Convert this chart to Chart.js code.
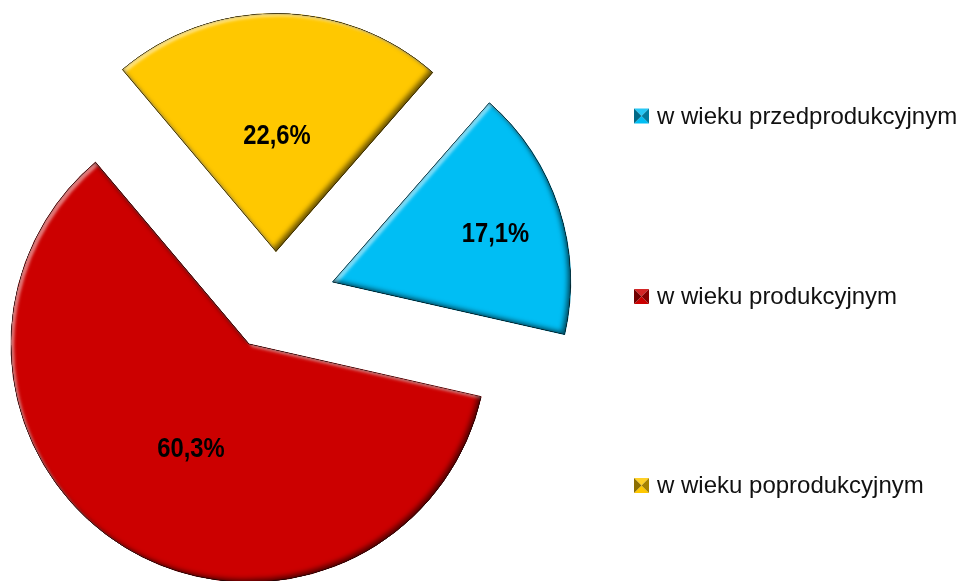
<!DOCTYPE html>
<html>
<head>
<meta charset="utf-8">
<script src="https://cdn.jsdelivr.net/npm/chart.js@4/dist/chart.umd.min.js"></script>
<style>
  html, body { margin: 0; padding: 0; background: #ffffff; }
  #wrap { width: 958px; height: 581px; position: relative; }
</style>
</head>
<body>
<div id="wrap"><canvas id="c" width="958" height="581"></canvas></div>
<script>
// ---- data ----
const categories = ['w wieku przedprodukcyjnym', 'w wieku produkcyjnym', 'w wieku poprodukcyjnym'];
const shares = [17.1, 60.3, 22.6];

// ---- style ----
const colors = ['#00BEF4', '#CC0000', '#FFC800'];
const explodePx = [60, 51, 49];            // how far each slice is pulled out
const labelRatio = [0.713, 0.505, 0.485];   // label distance as share of radius
const labelTurnDeg = [1.8, -2.4, 0];        // label angle tweak vs slice middle
const fontFam = "'Liberation Sans', Arial, sans-serif";
const legendStyle = { x: 634, ys: [116, 296.5, 485.5], box: 15, gap: 8, size: 24 };

function shade(hex, f) {
  const n = parseInt(hex.slice(1), 16);
  let r = (n >> 16) & 255, g = (n >> 8) & 255, b = n & 255;
  const m = v => f >= 0 ? Math.round(v + (255 - v) * f) : Math.round(v * (1 + f));
  return `rgb(${m(r)},${m(g)},${m(b)})`;
}

const explodePlugin = {
  id: 'explode',
  afterDatasetUpdate(chart, args) {
    args.meta.data.forEach((el, i) => {
      const mid = (el.startAngle + el.endAngle) / 2;
      el.x += Math.cos(mid) * explodePx[i];
      el.y += Math.sin(mid) * explodePx[i];
    });
  }
};

function arcPath(el) {
  const p = new Path2D();
  p.moveTo(el.x, el.y);
  p.arc(el.x, el.y, el.outerRadius, el.startAngle, el.endAngle);
  p.closePath();
  return p;
}

const bevelPlugin = {
  id: 'bevel',
  afterDatasetDraw(chart, args) {
    const ctx = chart.ctx;
    args.meta.data.forEach((el) => {
      const p = arcPath(el);
      const ring = new Path2D();
      ring.rect(-2000, -2000, 5000, 5000);
      ring.addPath(p);
      const passes = [
        { c: 'rgba(255,255,255,0.5)', dx: 3, dy: 3, blur: 3 },
        { c: 'rgba(0,0,0,0.55)', dx: -3, dy: -3, blur: 5 },
        { c: 'rgba(0,0,0,0.25)', dx: 0, dy: 0, blur: 3 }
      ];
      passes.forEach(s => {
        ctx.save();
        ctx.clip(p);
        ctx.shadowColor = s.c;
        ctx.shadowBlur = s.blur;
        ctx.shadowOffsetX = s.dx;
        ctx.shadowOffsetY = s.dy;
        ctx.fillStyle = '#000';
        ctx.fill(ring, 'evenodd');
        ctx.restore();
      });
    });
  }
};

const labelPlugin = {
  id: 'sliceLabels',
  afterDatasetsDraw(chart) {
    const ctx = chart.ctx;
    const meta = chart.getDatasetMeta(0);
    const vals = chart.data.datasets[0].data;
    meta.data.forEach((el, i) => {
      const mid = (el.startAngle + el.endAngle) / 2 + labelTurnDeg[i] * Math.PI / 180;
      const r = el.outerRadius * labelRatio[i];
      const txt = vals[i].toFixed(1).replace('.', ',') + '%';
      ctx.save();
      ctx.translate(el.x + Math.cos(mid) * r, el.y + Math.sin(mid) * r);
      ctx.scale(0.85, 1);
      ctx.font = `bold 28px ${fontFam}`;
      ctx.fillStyle = '#000';
      ctx.textAlign = 'center';
      ctx.textBaseline = 'middle';
      ctx.fillText(txt, 0, 0);
      ctx.restore();
    });
  }
};

const legendPlugin = {
  id: 'sideLegend',
  afterDraw(chart) {
    const ctx = chart.ctx;
    const ds = chart.data.datasets[0];
    const L = legendStyle;
    ctx.save();
    chart.data.labels.forEach((lab, i) => {
      const col = ds.backgroundColor[i];
      const x = L.x, y = L.ys[i] - L.box / 2, s = L.box, cx = x + s / 2, cy = y + s / 2;
      const tri = (pts, c) => {
        ctx.beginPath();
        ctx.moveTo(pts[0][0], pts[0][1]);
        ctx.lineTo(pts[1][0], pts[1][1]);
        ctx.lineTo(pts[2][0], pts[2][1]);
        ctx.closePath();
        ctx.fillStyle = c;
        ctx.fill();
      };
      tri([[x, y], [x + s, y], [cx, cy]], shade(col, 0.15));
      tri([[x, y + s], [x + s, y + s], [cx, cy]], shade(col, 0.0));
      tri([[x, y], [x, y + s], [cx, cy]], shade(col, -0.45));
      tri([[x + s, y], [x + s, y + s], [cx, cy]], shade(col, -0.35));
      ctx.fillStyle = '#111';
      ctx.font = `${L.size}px ${fontFam}`;
      ctx.textAlign = 'left';
      ctx.textBaseline = 'middle';
      ctx.fillText(lab, x + s + L.gap, L.ys[i] + 1);
    });
    ctx.restore();
  }
};

new Chart(document.getElementById('c'), {
  type: 'pie',
  data: {
    labels: categories,
    datasets: [{
      data: shares,
      backgroundColor: colors,
      borderColor: colors.map(c => shade(c, -0.3)),
      borderWidth: 1
    }]
  },
  options: {
    responsive: false,
    animation: false,
    rotation: 41.2,
    radius: 238,
    layout: { padding: { left: 0, right: 407, top: 20, bottom: 0 } },
    plugins: {
      legend: { display: false },
      tooltip: { enabled: false }
    }
  },
  plugins: [explodePlugin, bevelPlugin, labelPlugin, legendPlugin]
});
</script>
</body>
</html>
